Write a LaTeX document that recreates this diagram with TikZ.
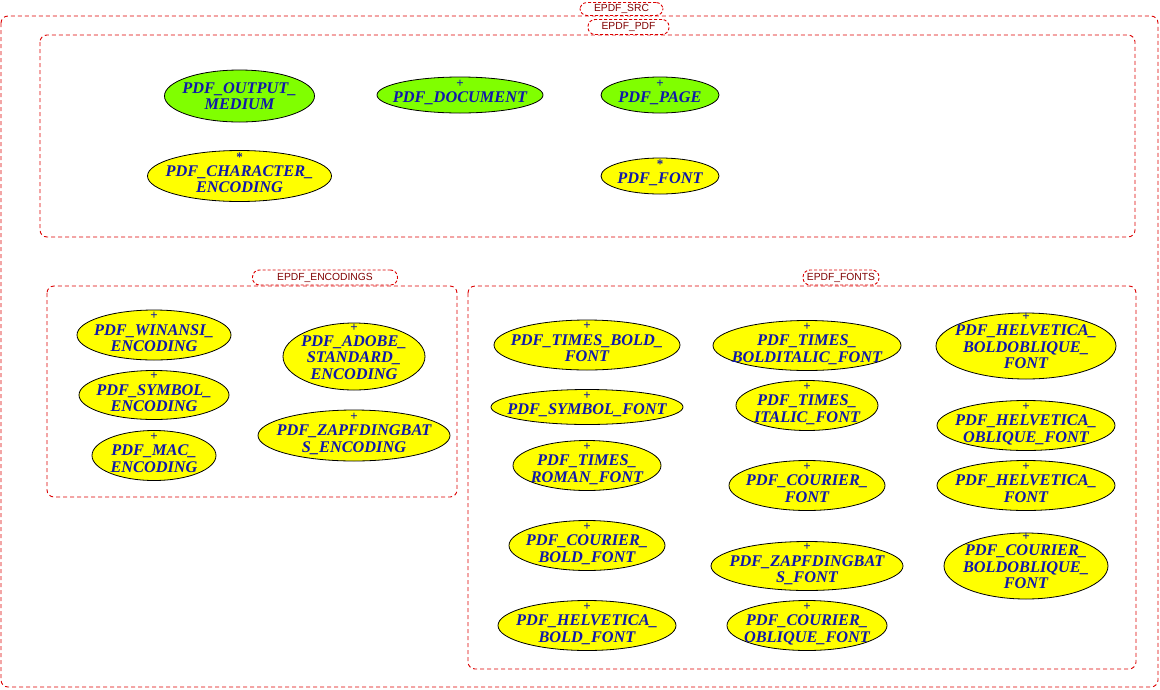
\documentclass[tikz,border=0pt]{standalone}
\usepackage{fontspec}
\setmainfont{Liberation Serif}
\newfontfamily\lblfont{Liberation Sans}
\usetikzlibrary{shapes.geometric}
\definecolor{nodeblue}{RGB}{16,24,170}
\definecolor{clred}{RGB}{220,0,0}
\definecolor{lbldark}{RGB}{128,0,0}
\definecolor{ygreen}{RGB}{128,255,0}
\definecolor{yfill}{RGB}{255,255,0}
\tikzset{
 cluster/.style={draw=clred, dash pattern=on 4pt off 3pt, rounded corners=7pt, line width=0.9pt},
 cltag/.style={rectangle, draw=clred, dash pattern=on 3pt off 2pt, rounded corners=7pt, line width=0.9pt, fill=white, font=\lblfont\fontsize{10.3}{12}\selectfont, text=lbldark, inner sep=0pt},
 ell/.style={ellipse, draw=black, line width=0.8pt, inner sep=0pt},
 ytxt/.style={font=\bfseries\itshape\fontsize{16.3}{16.5}\selectfont, text=nodeblue, align=center, inner sep=0pt},
 mk/.style={font=\bfseries\fontsize{13}{13}\selectfont, text=nodeblue, inner sep=0pt},
}
\newcommand\txtbox[1]{\rule{0pt}{14.3pt}#1\rule[-3.5pt]{0pt}{3.5pt}}
% name, x, y, rx, ry, fill, marker, number of lines, text
\newcommand\enode[9]{%
 \ifcase#8\or\def\toff{2}\or\def\toff{3}\or\def\toff{1}\fi
 \pgfmathsetmacro\mup{13.5+8.25*(#8-1)-\toff}%
 \node[ell, fill=#6, minimum width=2*#4, minimum height=2*#5] (#1) at (#2,#3) {};
 \node[ytxt, yshift=-\toff pt] (#1-t) at (#1.center) {\txtbox{#9}};
 \node[mk, yshift=\mup pt] (#1-m) at (#1.center) {#7};
}
\newcommand\enodeplain[6]{%
 \node[ell, fill=#5, minimum width=2*#3, minimum height=2*#4] (#1) at (#2) {};
 \node[ytxt] (#1-t) at (#1.center) {\txtbox{#6}};
}
\begin{document}
\begin{tikzpicture}[x=1pt,y=-1pt]
\useasboundingbox (0,0) rectangle (1160,689);
% clusters
\draw[cluster] (1,16) rectangle (1158,687);
\node[cltag, minimum width=83pt, minimum height=13pt] (tsrc) at (621.5,9) {EPDF\_SRC};
\draw[cluster] (40,35) rectangle (1135,237);
\node[cltag, minimum width=81pt, minimum height=15pt] (tpdf) at (628.5,27) {EPDF\_PDF};
\draw[cluster] (47,286) rectangle (457,497);
\node[cltag, minimum width=145pt, minimum height=15pt] (tenc) at (325,277.5) {EPDF\_ENCODINGS};
\draw[cluster] (468,286) rectangle (1136,669);
\node[cltag, minimum width=76pt, minimum height=15pt] (tfonts) at (841,277.5) {EPDF\_FONTS};
% EPDF_PDF
\enodeplain{om}{239.5,96}{75}{26}{ygreen}{PDF\_OUTPUT\_\\MEDIUM}
\enode{doc}{460}{95}{83}{18}{ygreen}{+}{1}{PDF\_DOCUMENT}
\enode{page}{660}{95}{59}{18}{ygreen}{+}{1}{PDF\_PAGE}
\enode{chenc}{239.5}{176}{92}{25.5}{yfill}{*}{2}{PDF\_CHARACTER\_\\ENCODING}
\enode{font}{660}{176}{59}{18}{yfill}{*}{1}{PDF\_FONT}
% encodings
\enode{win}{154}{335}{77}{25}{yfill}{+}{2}{PDF\_WINANSI\_\\ENCODING}
\enode{symenc}{154}{395}{75}{24.5}{yfill}{+}{2}{PDF\_SYMBOL\_\\ENCODING}
\enode{mac}{154}{455.5}{62}{25}{yfill}{+}{2}{PDF\_MAC\_\\ENCODING}
\enode{adobe}{354}{356.5}{71}{33.5}{yfill}{+}{3}{PDF\_ADOBE\_\\STANDARD\_\\ENCODING}
\enode{zapfenc}{354}{435.5}{96}{25.5}{yfill}{+}{2}{PDF\_ZAPFDINGBAT\\S\_ENCODING}
% fonts col 1
\enode{tb}{587}{345}{93}{25}{yfill}{+}{2}{PDF\_TIMES\_BOLD\_\\FONT}
\enode{symf}{587}{407}{96}{17.5}{yfill}{+}{1}{PDF\_SYMBOL\_FONT}
\enode{tr}{587}{465.5}{74}{25}{yfill}{+}{2}{PDF\_TIMES\_\\ROMAN\_FONT}
\enode{cb}{587}{545.5}{78}{25}{yfill}{+}{2}{PDF\_COURIER\_\\BOLD\_FONT}
\enode{hb}{587}{625.5}{89}{25}{yfill}{+}{2}{PDF\_HELVETICA\_\\BOLD\_FONT}
% fonts col 2
\enode{tbi}{807}{345.5}{94}{25}{yfill}{+}{2}{PDF\_TIMES\_\\BOLDITALIC\_FONT}
\enode{ti}{807}{405.5}{71}{25}{yfill}{+}{2}{PDF\_TIMES\_\\ITALIC\_FONT}
\enode{cf}{807}{485.5}{78}{25}{yfill}{+}{2}{PDF\_COURIER\_\\FONT}
\enode{zapff}{807}{566}{96}{24.5}{yfill}{+}{2}{PDF\_ZAPFDINGBAT\\S\_FONT}
\enode{co}{807}{625.5}{80}{25}{yfill}{+}{2}{PDF\_COURIER\_\\OBLIQUE\_FONT}
% fonts col 3
\enode{hbo}{1026}{346}{90}{33}{yfill}{+}{3}{PDF\_HELVETICA\_\\BOLDOBLIQUE\_\\FONT}
\enode{ho}{1026}{425.5}{89}{25}{yfill}{+}{2}{PDF\_HELVETICA\_\\OBLIQUE\_FONT}
\enode{hf}{1026}{485.5}{89}{25}{yfill}{+}{2}{PDF\_HELVETICA\_\\FONT}
\enode{cbo}{1026}{566}{82}{33}{yfill}{+}{3}{PDF\_COURIER\_\\BOLDOBLIQUE\_\\FONT}
\end{tikzpicture}
\end{document}
